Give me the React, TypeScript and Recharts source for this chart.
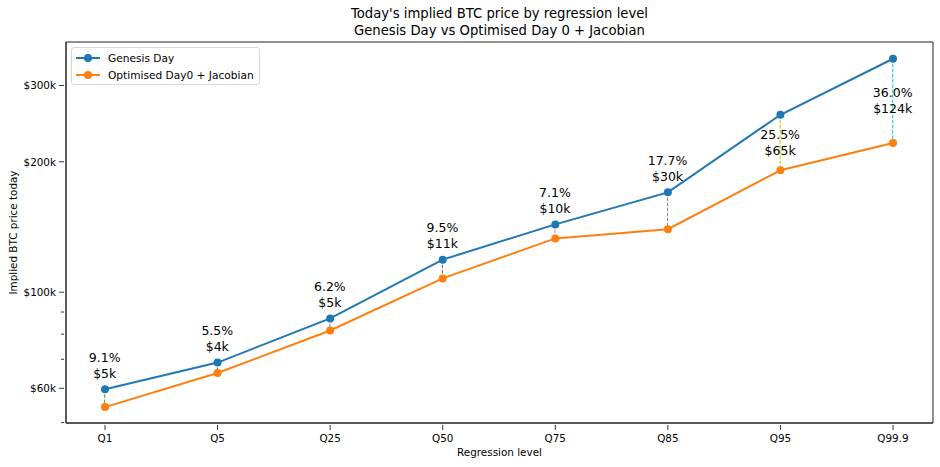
import React from "react";
import {
  ComposedChart,
  Line,
  Bar,
  XAxis,
  YAxis,
  ReferenceArea,
} from "recharts";

const levels = ["Q1", "Q5", "Q25", "Q50", "Q75", "Q85", "Q95", "Q99.9"];
const genesis = [59700, 68800, 87000, 118900, 143400, 170000, 256800, 345800];
const optimised = [54300, 65100, 81600, 107600, 133100, 139800, 191200, 220900];
const pctLabels = ["9.1%", "5.5%", "6.2%", "9.5%", "7.1%", "17.7%", "25.5%", "36.0%"];
const diffLabels = ["$5k", "$4k", "$5k", "$11k", "$10k", "$30k", "$65k", "$124k"];
const gapColors = ["#2ca02c", "#d62728", "#9467bd", "#8c564b", "#e377c2", "#7f7f7f", "#bcbd22", "#17becf"];
const yTicks = [50000, 60000, 70000, 80000, 90000, 100000, 200000, 300000];
const yLabelled = [60000, 100000, 200000, 300000];
const Y_MIN = 49900;
const Y_MAX = 378000;
const LAST = levels.length - 1;

const BLUE = "#1f77b4";
const ORANGE = "#ff7f0e";
const FONT = "'DejaVu Sans', sans-serif";

const data = levels.map((level, i) => ({
  level,
  gen: genesis[i],
  opt: optimised[i],
  pct: pctLabels[i],
  diff: diffLabels[i],
  pctValue: parseFloat(pctLabels[i]),
}));

function YTick({ x, y, payload }: any) {
  const major = yLabelled.includes(payload.value);
  return (
    <g>
      <line x1={x} x2={x - (major ? 5 : 3)} y1={y} y2={y} stroke="#000" strokeWidth={0.8} />
      {major && (
        <text x={x - 8} y={y} dy={3.8} textAnchor="end" fontSize={10.4} fontFamily={FONT} fill="#000">
          ${payload.value / 1000}k
        </text>
      )}
    </g>
  );
}

function XTick({ x, y, payload }: any) {
  return (
    <g>
      <line x1={x} x2={x} y1={y} y2={y + 5} stroke="#000" strokeWidth={0.8} />
      <text x={x} y={y + 17} textAnchor="middle" fontSize={10.4} fontFamily={FONT} fill="#000">
        {payload.value}
      </text>
    </g>
  );
}

function GapShape(props: any) {
  const { x, y, width, height, index, payload } = props;
  const cx = x + width / 2;
  // big gaps get the label in the middle of the gap, small ones above the point
  const mid = payload.pctValue > 20;
  const base = mid ? y + height / 2 - 8 : y - 32;
  return (
    <g>
      <line
        x1={cx}
        x2={cx}
        y1={y}
        y2={y + height}
        stroke={gapColors[index]}
        strokeWidth={1}
        strokeDasharray="3.5 1.6"
      />
      <text x={cx} y={base} dy={4.5} textAnchor="middle" fontSize={12.5} fontFamily={FONT} fill="#000">
        {payload.pct}
      </text>
      <text x={cx} y={base + 16} dy={4.5} textAnchor="middle" fontSize={12.5} fontFamily={FONT} fill="#000">
        {payload.diff}
      </text>
    </g>
  );
}

const legendItems = [
  { name: "Genesis Day", color: BLUE },
  { name: "Optimised Day0 + Jacobian", color: ORANGE },
];

function LegendBox() {
  return (
    <div
      style={{
        position: "absolute",
        left: 71,
        top: 47,
        border: "1px solid #d8d8d8",
        borderRadius: 3,
        background: "rgba(255,255,255,0.8)",
        padding: "1px 5px 1px 3px",
        fontFamily: FONT,
        fontSize: 10.6,
      }}
    >
      {legendItems.map((it) => (
        <div key={it.name} style={{ display: "flex", alignItems: "center", height: 17 }}>
          <svg width={28} height={10}>
            <line x1={1} x2={25} y1={5} y2={5} stroke={it.color} strokeWidth={2} />
            <circle cx={13} cy={5} r={4} fill={it.color} />
          </svg>
          <span style={{ marginLeft: 5 }}>{it.name}</span>
        </div>
      ))}
    </div>
  );
}

export default function App() {
  return (
    <div style={{ position: "absolute", left: 0, top: 0, width: 940, height: 467, background: "#fff" }}>
      <div
        style={{
          position: "absolute",
          left: 66,
          width: 867,
          top: 5,
          textAlign: "center",
          fontFamily: FONT,
          fontSize: 13.2,
          lineHeight: "17px",
          color: "#000",
        }}
      >
        Today's implied BTC price by regression level
        <br />
        Genesis Day vs Optimised Day 0 + Jacobian
      </div>
      <ComposedChart
        width={940}
        height={467}
        data={data}
        margin={{ top: 42, right: 7, bottom: 14, left: 6 }}
      >
        <XAxis
          dataKey="level"
          scale="point"
          padding={{ left: 39, right: 40 }}
          height={30}
          tickLine={false}
          tickSize={0}
          tick={<XTick />}
          interval={0}
          axisLine={{ stroke: "#222", strokeWidth: 1 }}
          label={{
            value: "Regression level",
            position: "insideBottom",
            offset: -3,
            fontSize: 10.4,
            fontFamily: FONT,
            fill: "#000",
          }}
        />
        {/* hidden numeric axis, only used to span the frame across the full plot */}
        <XAxis xAxisId="frame" type="number" domain={[0, LAST]} allowDataOverflow hide />
        <YAxis
          scale="log"
          domain={[Y_MIN, Y_MAX]}
          allowDataOverflow
          ticks={yTicks}
          interval={0}
          width={60}
          tickLine={false}
          tickSize={0}
          tick={<YTick />}
          axisLine={{ stroke: "#222", strokeWidth: 1 }}
          label={{
            value: "Implied BTC price today",
            angle: -90,
            position: "insideLeft",
            offset: 7,
            style: { textAnchor: "middle" },
            fontSize: 10.4,
            fontFamily: FONT,
            fill: "#000",
          }}
        />
        <ReferenceArea
          xAxisId="frame"
          x1={0}
          x2={LAST}
          y1={Y_MIN}
          y2={Y_MAX}
          fill="none"
          fillOpacity={0}
          stroke="#222"
          strokeWidth={1}
        />
        <Bar
          dataKey={(d: any) => [d.opt, d.gen]}
          barSize={6}
          shape={<GapShape />}
          isAnimationActive={false}
          legendType="none"
        />
        <Line
          dataKey="gen"
          name="Genesis Day"
          stroke={BLUE}
          strokeWidth={2}
          dot={{ r: 4, fill: BLUE, stroke: BLUE, strokeWidth: 0 }}
          isAnimationActive={false}
        />
        <Line
          dataKey="opt"
          name="Optimised Day0 + Jacobian"
          stroke={ORANGE}
          strokeWidth={2}
          dot={{ r: 4, fill: ORANGE, stroke: ORANGE, strokeWidth: 0 }}
          isAnimationActive={false}
        />
      </ComposedChart>
      <LegendBox />
    </div>
  );
}
